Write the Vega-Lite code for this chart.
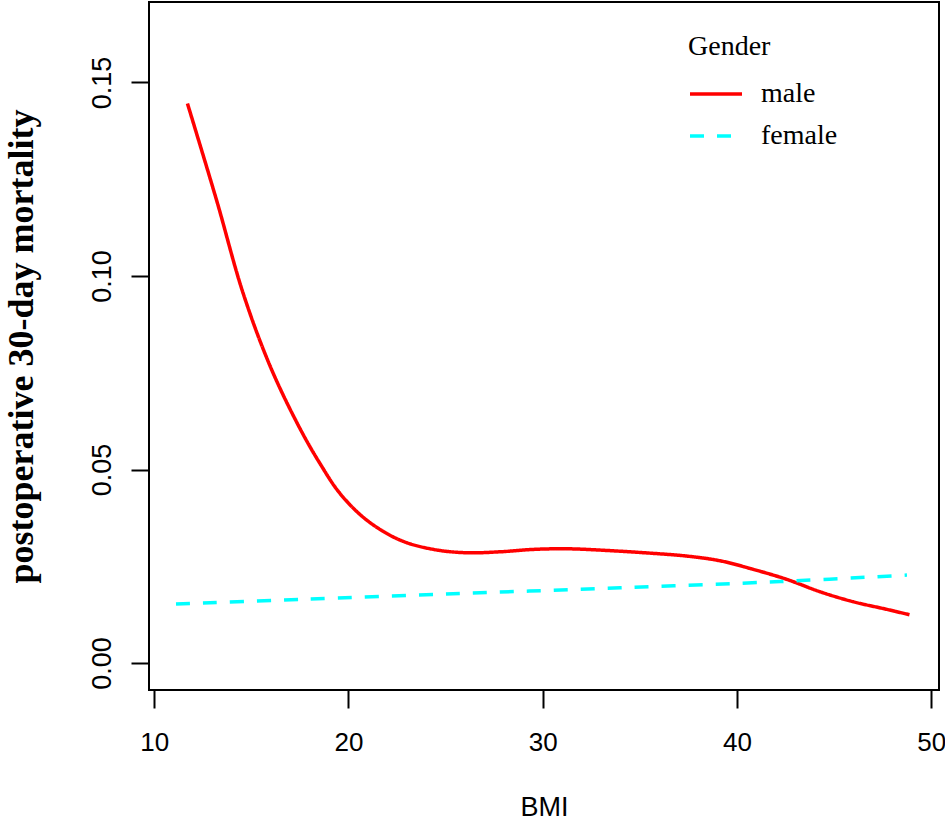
{
  "$schema": "https://vega.github.io/schema/vega-lite/v6.json",
  "autosize": "none",
  "padding": {"left": 149, "top": 2, "right": 6, "bottom": 130},
  "width": 790,
  "height": 688,
  "background": "white",
  "data": {
    "values": [
      {"BMI": 11.71, "mortality": 0.14455, "Gender": "male"},
      {"BMI": 13.21, "mortality": 0.11957, "Gender": "male"},
      {"BMI": 14.58, "mortality": 0.09548, "Gender": "male"},
      {"BMI": 16.01, "mortality": 0.07619, "Gender": "male"},
      {"BMI": 17.5, "mortality": 0.06061, "Gender": "male"},
      {"BMI": 18.53, "mortality": 0.05157, "Gender": "male"},
      {"BMI": 19.56, "mortality": 0.04383, "Gender": "male"},
      {"BMI": 20.94, "mortality": 0.03693, "Gender": "male"},
      {"BMI": 22.65, "mortality": 0.03177, "Gender": "male"},
      {"BMI": 24.37, "mortality": 0.02936, "Gender": "male"},
      {"BMI": 26.09, "mortality": 0.02849, "Gender": "male"},
      {"BMI": 27.8, "mortality": 0.02874, "Gender": "male"},
      {"BMI": 29.52, "mortality": 0.02936, "Gender": "male"},
      {"BMI": 31.24, "mortality": 0.02952, "Gender": "male"},
      {"BMI": 32.95, "mortality": 0.02918, "Gender": "male"},
      {"BMI": 35.7, "mortality": 0.02833, "Gender": "male"},
      {"BMI": 37.42, "mortality": 0.02763, "Gender": "male"},
      {"BMI": 39.13, "mortality": 0.02642, "Gender": "male"},
      {"BMI": 40.84, "mortality": 0.0242, "Gender": "male"},
      {"BMI": 42.56, "mortality": 0.02162, "Gender": "male"},
      {"BMI": 44.28, "mortality": 0.01841, "Gender": "male"},
      {"BMI": 45.99, "mortality": 0.01583, "Gender": "male"},
      {"BMI": 47.71, "mortality": 0.01387, "Gender": "male"},
      {"BMI": 48.88, "mortality": 0.01247, "Gender": "male"},
      {"BMI": 11.12, "mortality": 0.01524, "Gender": "female"},
      {"BMI": 17.5, "mortality": 0.01645, "Gender": "female"},
      {"BMI": 25.74, "mortality": 0.01795, "Gender": "female"},
      {"BMI": 33.98, "mortality": 0.01945, "Gender": "female"},
      {"BMI": 42.22, "mortality": 0.02105, "Gender": "female"},
      {"BMI": 48.75, "mortality": 0.02273, "Gender": "female"}
    ]
  },
  "mark": {"type": "line", "interpolate": "catmull-rom", "strokeWidth": 3.5},
  "encoding": {
    "x": {
      "field": "BMI",
      "type": "quantitative",
      "scale": {"domain": [9.73, 50.4], "nice": false, "zero": false},
      "axis": {
        "values": [10, 20, 30, 40, 50],
        "title": "BMI",
        "titlePadding": 39,
        "labelPadding": 21,
        "labelFontSize": 26,
        "tickSize": 18
      }
    },
    "y": {
      "field": "mortality",
      "type": "quantitative",
      "scale": {"domain": [-0.00697, 0.1708], "nice": false, "zero": false},
      "axis": {
        "values": [0, 0.05, 0.1, 0.15],
        "format": ".2f",
        "title": "postoperative 30-day mortality",
        "titleFont": "Liberation Serif",
        "titleFontWeight": "bold",
        "titleFontSize": 36,
        "titlePadding": 48,
        "labelAngle": 270,
        "labelAlign": "center",
        "labelBaseline": "alphabetic",
        "labelPadding": 21,
        "tickSize": 18
      }
    },
    "color": {
      "field": "Gender",
      "type": "nominal",
      "scale": {"domain": ["male", "female"], "range": ["#ff0000", "#00ffff"]},
      "legend": {"title": "Gender", "orient": "none", "legendX": 539, "legendY": 31}
    },
    "strokeDash": {
      "field": "Gender",
      "type": "nominal",
      "scale": {"domain": ["male", "female"], "range": [[1, 0], [14, 13]]},
      "legend": {"title": "Gender", "orient": "none", "legendX": 539, "legendY": 31}
    }
  },
  "config": {
    "view": {"stroke": "black", "strokeWidth": 2},
    "axis": {
      "domain": false,
      "grid": false,
      "ticks": true,
      "tickColor": "black",
      "tickWidth": 2,
      "labelFont": "Liberation Sans",
      "labelFontSize": 27,
      "labelColor": "black",
      "titleFont": "Liberation Sans",
      "titleFontSize": 27,
      "titleFontWeight": "normal",
      "titleColor": "black"
    },
    "legend": {
      "padding": 0,
      "symbolType": "stroke",
      "symbolSize": 2704,
      "symbolStrokeWidth": 3.5,
      "labelOffset": 17,
      "labelFont": "Liberation Serif",
      "labelFontSize": 28,
      "labelColor": "black",
      "titleFont": "Liberation Serif",
      "titleFontSize": 28,
      "titleFontWeight": "normal",
      "titleColor": "black",
      "titlePadding": 5,
      "rowPadding": -20
    }
  }
}
